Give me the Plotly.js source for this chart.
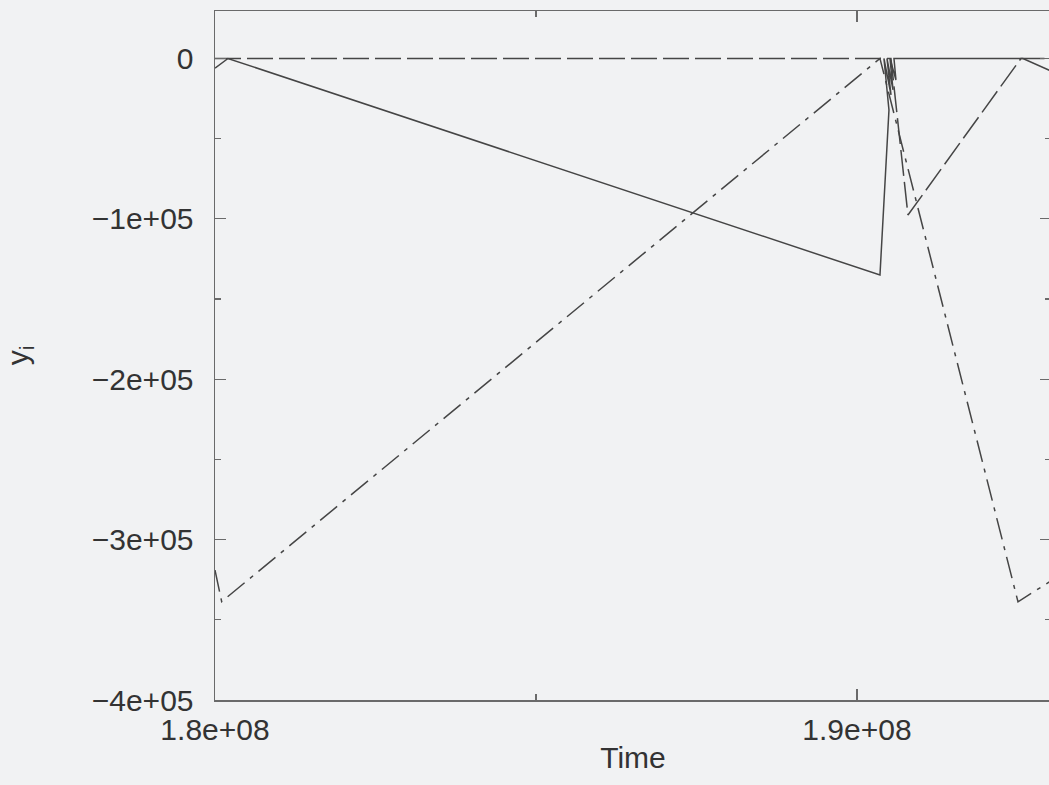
<!DOCTYPE html>
<html>
<head>
<meta charset="utf-8">
<script src="https://cdn.plot.ly/plotly-3.0.1.min.js"></script>
<style>
  html, body { margin: 0; padding: 0; background: #f1f2f3; overflow: hidden; }
  #chart { width: 1053px; height: 785px; }
</style>
</head>
<body>
<div id="chart"></div>
<script>
// State trajectories y_i over simulated time
const timeSolid = [1.8e8, 1.80202e8, 1.90358e8, 1.90498e8, 1.90420e8, 1.90530e8, 1.90467e8,
                   1.90561e8, 1.90514e8, 1.90607e8, 1.90576e8, 1.90638e8, 1.92585e8, 1.93022e8];
const ySolid    = [-6000, 0, -135000, -32100, 0, -22750, 0,
                   -19600, 0, -13400, 0, 0, 0, -7800];

const timeDashed = [1.8e8, 1.90389e8, 1.90529e8, 1.90794e8, 1.92554e8, 1.93022e8];
const yDashed    = [0, 0, 0, -97600, 0, 0];

const timeDashDot = [1.8e8, 1.80104e8, 1.90358e8, 1.92508e8, 1.93022e8];
const yDashDot    = [-319000, -338700, 0, -338800, -325700];

// Axis ticks
const xTickVals = [1.8e8, 1.9e8];
const xTickText = ['1.8e+08', '1.9e+08'];
const yTickVals = [0, -1e5, -2e5, -3e5, -4e5];
const yTickText = ['0', '\u22121e+05', '\u22122e+05', '\u22123e+05', '\u22124e+05'];

const ink = '#454545';
const frame = '#6a6a6a';
const txt = '#333333';

const traces = [
  { x: timeSolid, y: ySolid, type: 'scatter', mode: 'lines',
    line: { color: ink, width: 1.5 } },
  { x: timeDashed, y: yDashed, type: 'scatter', mode: 'lines',
    line: { color: ink, width: 1.5, dash: '26px,6px' } },
  { x: timeDashDot, y: yDashDot, type: 'scatter', mode: 'lines',
    line: { color: ink, width: 1.5, dash: '22px,7px,4px,7px' } }
];

const layout = {
  width: 1053, height: 785,
  margin: { l: 215, r: 2, t: 11, b: 85 },
  paper_bgcolor: '#f1f2f3', plot_bgcolor: '#f1f2f3',
  showlegend: false,
  font: { family: 'Liberation Sans, Arial, sans-serif', size: 30, color: txt },
  xaxis: {
    range: [1.8e8, 1.93022e8],
    tickmode: 'array', tickvals: xTickVals, ticktext: xTickText,
    ticks: 'inside', ticklen: 11, tickwidth: 1.2, tickcolor: frame,
    ticklabelstandoff: 2,
    minor: { tickmode: 'array', tickvals: [1.85e8], ticks: 'inside', ticklen: 6, tickcolor: frame, tickwidth: 1.2 },
    showline: true, linecolor: frame, linewidth: 1.5, mirror: 'ticks',
    showgrid: false, zeroline: false,
    title: { text: 'Time', font: { size: 30, color: txt }, standoff: 2 }
  },
  yaxis: {
    range: [-4e5, 29600],
    tickmode: 'array', tickvals: yTickVals, ticktext: yTickText,
    ticks: 'inside', ticklen: 11, tickwidth: 1.2, tickcolor: frame,
    ticklabelstandoff: 14,
    minor: { dtick: 5e4, ticks: 'inside', ticklen: 6, tickcolor: frame, tickwidth: 1.2 },
    showline: true, linecolor: frame, linewidth: 1.5, mirror: 'ticks',
    showgrid: false, zeroline: false,
    title: { text: 'y<sub>i</sub>', font: { size: 30, color: txt }, standoff: 54 }
  }
};

Plotly.newPlot('chart', traces, layout, { displayModeBar: false, staticPlot: true });
</script>
</body>
</html>
